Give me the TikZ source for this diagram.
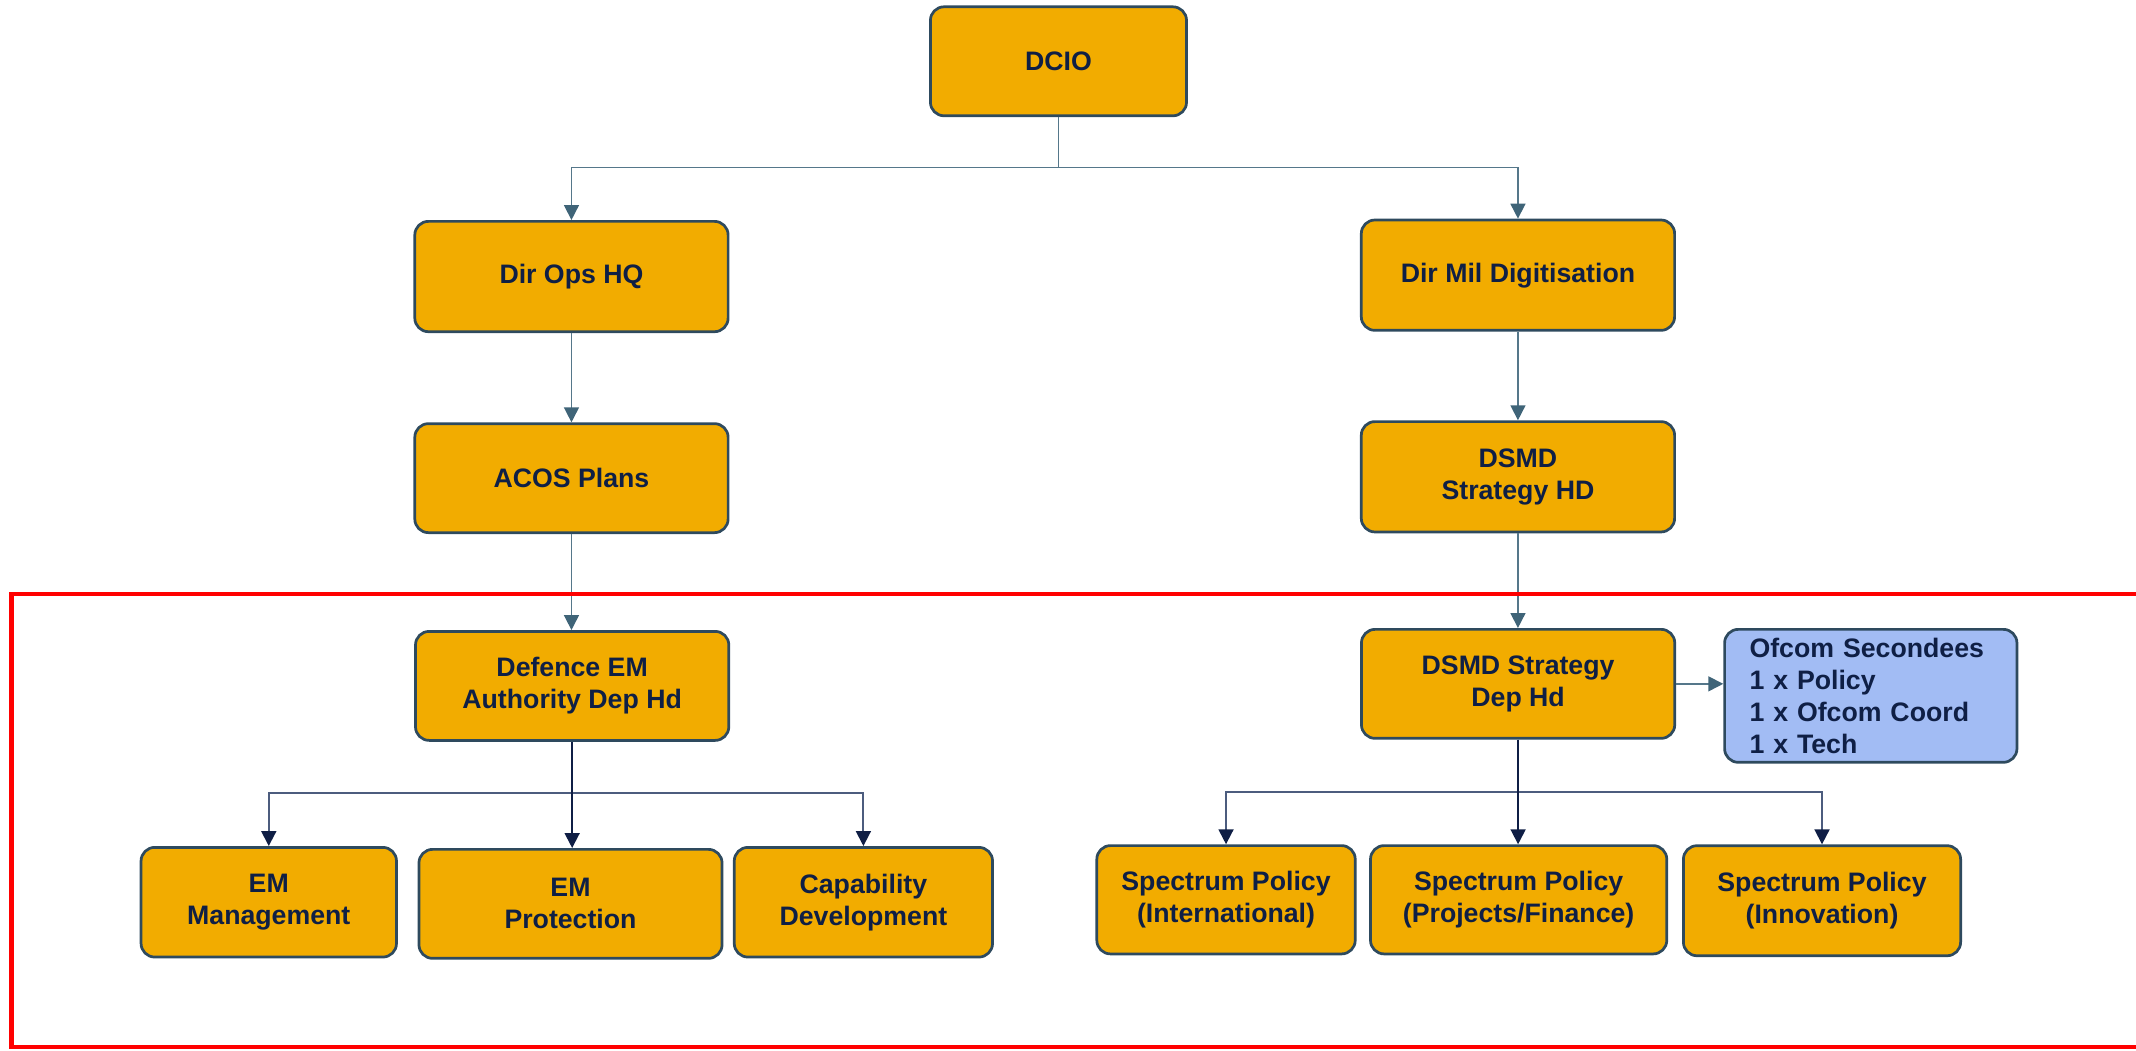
\documentclass[tikz,border=0pt]{standalone}
\usepackage{fontspec}
\setmainfont{Liberation Sans}
\usetikzlibrary{arrows.meta}
\definecolor{orgfill}{HTML}{F2AC00}
\definecolor{orgborder}{HTML}{2E4A5E}
\definecolor{txtnavy}{HTML}{0F1F45}
\definecolor{bluefill}{HTML}{A2BCF4}
\definecolor{steel}{HTML}{55778A}
\definecolor{steeltip}{HTML}{3F6478}
\definecolor{navyline}{HTML}{0F1E45}
\definecolor{busline}{HTML}{4C5C7E}
\begin{document}
\begin{tikzpicture}[x=0.5pt,y=-0.5pt,
  box/.style={draw=orgborder, fill=orgfill, line width=1pt, rounded corners=5pt,
    align=center, text=txtnavy, font=\bfseries\fontsize{9.8}{11.8}\selectfont, inner sep=2pt},
  bluebox/.style={box, fill=bluefill, align=left},
  upconn/.style={draw=steel, line width=0.6pt, -{Triangle[length=5.5pt,width=5.5pt,color=steeltip]}},
  trunk/.style={draw=navyline, line width=0.7pt, -{Triangle[length=5.5pt,width=5.5pt,color=navyline]}},
  sideconn/.style={draw=busline, line width=0.7pt, -{Triangle[length=5.5pt,width=5.5pt,color=navyline]}},
  redframe/.style={draw=red, line width=1.6pt}
]
\useasboundingbox (0,0) rectangle (1568,770.8);

% top level
\node[box, minimum width=94pt, minimum height=40pt] (dcio) at (777,45) {DCIO};
\node[box, minimum width=115pt, minimum height=40.5pt] (dirops) at (419.5,203) {Dir Ops HQ};
\node[box, minimum width=115pt, minimum height=40pt] (acos) at (419.5,351) {ACOS Plans};
\node[box, minimum width=115pt, minimum height=40.5pt] (dirmil) at (1114.3,202) {Dir Mil Digitisation};
\node[box, minimum width=115pt, minimum height=40.5pt] (dsmdhd) at (1114.3,350) {DSMD\\Strategy HD};

% third tier
\node[box, minimum width=115pt, minimum height=40pt] (defem) at (420,503.5) {Defence EM\\Authority Dep Hd};
\node[box, minimum width=115pt, minimum height=40pt] (dsmddep) at (1114.4,502) {DSMD Strategy\\Dep Hd};
\node[bluebox, minimum width=107.3pt, minimum height=48.8pt, text width=89pt, inner xsep=0pt] (ofcom) at (1373.3,510.8)
  {Ofcom Secondees\\1 x Policy\\1 x Ofcom Coord\\1 x Tech};

% bottom tier
\node[box, minimum width=93.75pt, minimum height=40.25pt] (emmgmt) at (197.3,662.3) {EM\\Management};
\node[box, minimum width=111.25pt, minimum height=40pt] (emprot) at (418.8,663.5) {EM\\Protection};
\node[box, minimum width=94.8pt, minimum height=40.25pt] (capdev) at (633.8,662.3) {Capability\\Development};
\node[box, minimum width=94.85pt, minimum height=39.75pt] (spint) at (900,660.5) {Spectrum Policy\\(International)};
\node[box, minimum width=108.75pt, minimum height=39.75pt] (spproj) at (1114.8,660.5) {Spectrum Policy\\(Projects/Finance)};
\node[box, minimum width=101.75pt, minimum height=40.4pt] (spinno) at (1337.5,661.2) {Spectrum Policy\\(Innovation)};

% bus coordinates
\coordinate (bustop) at (777,123);
\coordinate (busleft) at (420,582);
\coordinate (busright) at (1114.6,581.5);

% upper connectors
\draw[upconn] (dcio.south) -- (dcio.south |- bustop) -| (dirops.north);
\draw[upconn] (dcio.south |- bustop) -| (dirmil.north);
\draw[upconn] (dirops.south) -- (acos.north);
\draw[upconn] (acos.south) -- (acos.south |- defem.north);
\draw[upconn] (dirmil.south) -- (dsmdhd.north);
\draw[upconn] (dsmdhd.south) -- (dsmdhd.south |- dsmddep.north);
\draw[upconn] (dsmddep.east) -- (dsmddep.east -| ofcom.west);

% lower connectors, left
\draw[sideconn] (defem.south |- busleft) -| (emmgmt.north);
\draw[sideconn] (defem.south |- busleft) -| (capdev.north);
\draw[trunk] (defem.south) -- (defem.south |- emprot.north);

% lower connectors, right
\draw[sideconn] (dsmddep.south |- busright) -| (spint.north);
\draw[sideconn] (dsmddep.south |- busright) -| (spinno.north);
\draw[trunk] (dsmddep.south) -- (dsmddep.south |- spproj.north);

% red frame
\draw[redframe] (8.5,436) rectangle (1600,768.8);
\end{tikzpicture}
\end{document}
